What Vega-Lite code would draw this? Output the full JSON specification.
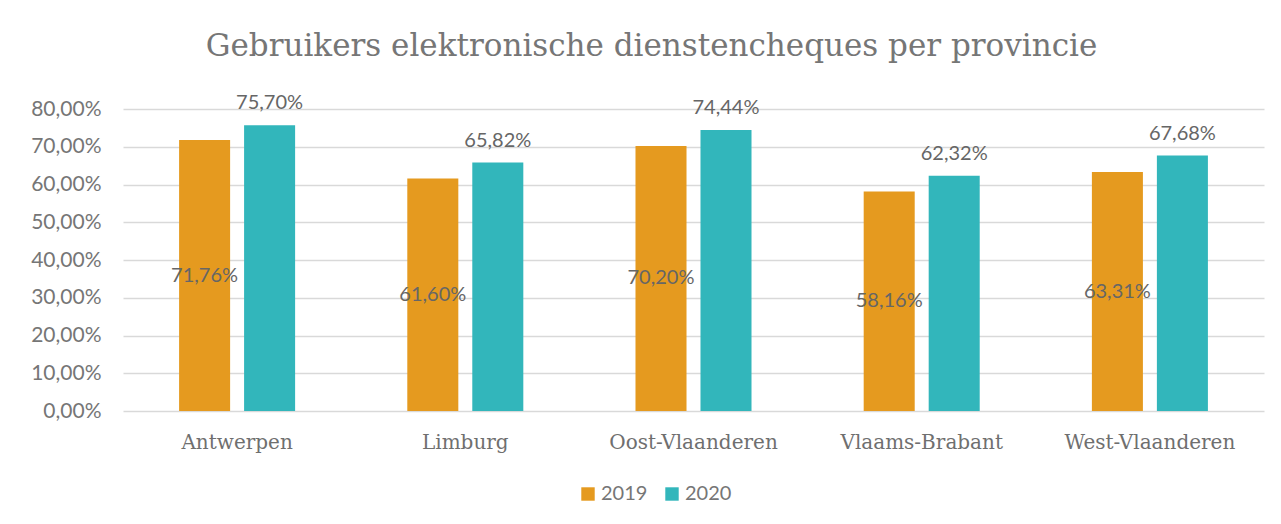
{
  "$schema": "https://vega.github.io/schema/vega-lite/v6.json",
  "autosize": {"type": "none"},
  "width": 1141,
  "height": 302,
  "padding": {"left": 123, "top": 109, "right": 17, "bottom": 113},
  "background": "white",
  "config": {
    "locale": {"number": {"decimal": ",", "thousands": ".", "grouping": [3], "currency": ["€", ""]}},
    "view": {"stroke": null}
  },
  "title": {
    "text": "Gebruikers elektronische dienstencheques per provincie",
    "font": "DejaVu Serif",
    "fontSize": 31,
    "fontWeight": "normal",
    "color": "#767676",
    "anchor": "middle",
    "dx": -42,
    "offset": 30
  },
  "data": {
    "values": [
      {"provincie": "Antwerpen", "jaar": "2019", "waarde": 0.7176},
      {"provincie": "Antwerpen", "jaar": "2020", "waarde": 0.757},
      {"provincie": "Limburg", "jaar": "2019", "waarde": 0.616},
      {"provincie": "Limburg", "jaar": "2020", "waarde": 0.6582},
      {"provincie": "Oost-Vlaanderen", "jaar": "2019", "waarde": 0.702},
      {"provincie": "Oost-Vlaanderen", "jaar": "2020", "waarde": 0.7444},
      {"provincie": "Vlaams-Brabant", "jaar": "2019", "waarde": 0.5816},
      {"provincie": "Vlaams-Brabant", "jaar": "2020", "waarde": 0.6232},
      {"provincie": "West-Vlaanderen", "jaar": "2019", "waarde": 0.6331},
      {"provincie": "West-Vlaanderen", "jaar": "2020", "waarde": 0.6768}
    ]
  },
  "encoding": {
    "x": {
      "field": "provincie", "type": "nominal", "sort": null,
      "scale": {"paddingInner": 0, "paddingOuter": 0},
      "axis": {
        "title": null, "labelAngle": 0, "domain": false, "ticks": false,
        "labelFont": "DejaVu Serif", "labelFontSize": 20, "labelColor": "#6f6f6f",
        "labelPadding": 21
      }
    },
    "xOffset": {
      "field": "jaar", "type": "nominal",
      "scale": {"paddingInner": 0.215, "paddingOuter": 0.863}
    }
  },
  "layer": [
    {
      "mark": {"type": "bar"},
      "encoding": {
        "y": {
          "field": "waarde", "type": "quantitative",
          "scale": {"domain": [0, 0.8], "nice": false},
          "axis": {
            "title": null, "format": ".2%", "values": [0, 0.1, 0.2, 0.3, 0.4, 0.5, 0.6, 0.7, 0.8],
            "labelOverlap": false,
            "domain": false, "ticks": false, "labelPadding": 22,
            "labelFont": "Lato", "labelFontSize": 21, "labelColor": "#767676",
            "gridColor": "#d9d9d9", "gridWidth": 1.3
          }
        },
        "color": {
          "field": "jaar", "type": "nominal",
          "scale": {"domain": ["2019", "2020"], "range": ["#e59a1f", "#32b6bb"]},
          "legend": {
            "title": null, "orient": "none", "direction": "horizontal",
            "legendX": 455, "legendY": 375,
            "symbolType": "square", "symbolSize": 180, "symbolStrokeWidth": 0,
            "labelFont": "Lato", "labelFontSize": 20, "labelColor": "#767676",
            "columnPadding": 14, "labelOffset": 3
          }
        }
      }
    },
    {
      "transform": [{"filter": "datum.jaar === '2020'"}],
      "mark": {"type": "text", "baseline": "bottom", "dy": -12, "font": "Lato", "fontSize": 20, "color": "#666666"},
      "encoding": {
        "y": {"field": "waarde", "type": "quantitative", "axis": null},
        "text": {"field": "waarde", "type": "quantitative", "format": ".2%"}
      }
    },
    {
      "transform": [{"filter": "datum.jaar === '2019'"}],
      "mark": {"type": "text", "baseline": "middle", "font": "Lato", "fontSize": 20, "color": "#666666"},
      "encoding": {
        "y": {"field": "waarde", "type": "quantitative", "axis": null, "scale": {"domain": [0, 1.6], "nice": false}},
        "text": {"field": "waarde", "type": "quantitative", "format": ".2%"}
      }
    }
  ],
  "resolve": {"scale": {"y": "independent"}}
}
